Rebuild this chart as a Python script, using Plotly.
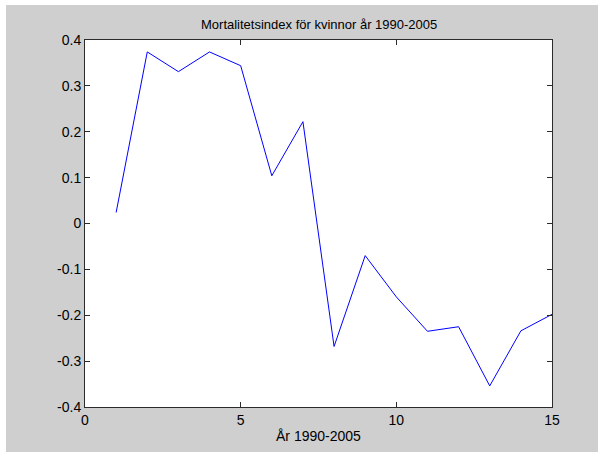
import plotly.graph_objects as go

# Mortality index for women, one value per year index
years = list(range(1, 16))
index_values = [0.024, 0.374, 0.331, 0.374, 0.344, 0.104, 0.222, -0.268,
                -0.070, -0.160, -0.235, -0.225, -0.354, -0.234, -0.198]

x_ticks = [0, 5, 10, 15]
y_ticks = [0.4, 0.3, 0.2, 0.1, 0, -0.1, -0.2, -0.3, -0.4]
y_tick_labels = ["0.4", "0.3", "0.2", "0.1", "0", "-0.1", "-0.2", "-0.3", "-0.4"]

title_text = "Mortalitetsindex för kvinnor år 1990-2005"
x_label = "År 1990-2005"

BG = "#cfcfcf"
AXIS = "#2b2b2b"
FONT = "Liberation Sans, Arial, sans-serif"

fig = go.Figure()
fig.add_trace(go.Scatter(
    x=years, y=index_values, mode="lines",
    line=dict(color="#0000ff", width=1),
    showlegend=False, hoverinfo="skip",
))

axis_common = dict(
    showgrid=False, zeroline=False,
    showline=True, linecolor=AXIS, linewidth=1, mirror="ticks",
    ticks="inside", ticklen=5, tickcolor=AXIS, tickwidth=1,
    tickfont=dict(family=FONT, size=14, color="#000000"),
)

fig.update_layout(
    width=598, height=452,
    margin=dict(l=85, r=46, t=40, b=45),
    paper_bgcolor=BG, plot_bgcolor="#ffffff",
    font=dict(family=FONT, color="#000000"),
    xaxis=dict(range=[0, 15], tickvals=x_ticks,
               ticktext=[str(v) for v in x_ticks], **axis_common),
    yaxis=dict(range=[-0.4, 0.4], tickvals=y_ticks,
               ticktext=y_tick_labels, **axis_common),
    annotations=[
        dict(text=title_text, xref="paper", yref="paper", x=0.5, y=1,
             xanchor="center", yanchor="bottom", yshift=6, showarrow=False,
             font=dict(family=FONT, size=13, color="#000000")),
        dict(text=x_label, xref="paper", yref="paper", x=0.5, y=0,
             xanchor="center", yanchor="top", yshift=-19, showarrow=False,
             font=dict(family=FONT, size=14, color="#000000")),
    ],
    shapes=[
        # white page strips along the top and left edges
        dict(type="rect", xref="paper", yref="paper",
             x0=-85 / 467, x1=(598 - 85) / 467, y0=1 + 35 / 367, y1=1 + 45 / 367,
             fillcolor="#ffffff", line=dict(width=0), layer="above"),
        dict(type="rect", xref="paper", yref="paper",
             x0=-85 / 467, x1=-79 / 467, y0=-50 / 367, y1=1 + 45 / 367,
             fillcolor="#ffffff", line=dict(width=0), layer="above"),
    ],
)

fig.write_html("out.html")
